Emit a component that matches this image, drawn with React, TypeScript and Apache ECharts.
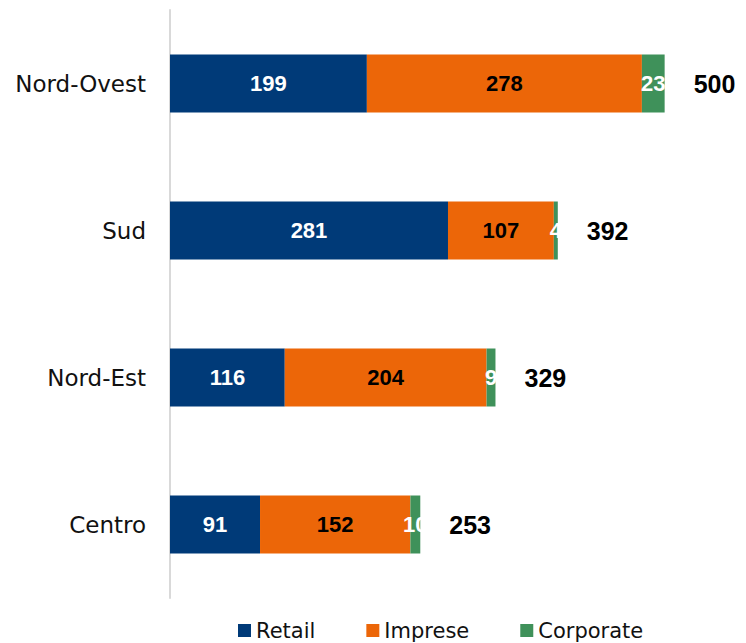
import React, { useEffect, useRef } from "react";
import * as echarts from "echarts";

const categories = ["Nord-Ovest", "Sud", "Nord-Est", "Centro"];
const retail = [199, 281, 116, 91];
const imprese = [278, 107, 204, 152];
const corporate = [23, 4, 9, 10];
const totals = [500, 392, 329, 253];
const seriesNames = ["Retail", "Imprese", "Corporate"];

export default function App() {
  const ref = useRef<HTMLDivElement>(null);
  useEffect(() => {
    if (!ref.current) return;
    const chart = echarts.init(ref.current, null, { renderer: "svg" });
    const numFont = "'Liberation Sans', Arial, sans-serif";
    const catFont = "'DejaVu Sans', sans-serif";
    const inner = (color: string) => ({
      show: true,
      position: "inside" as const,
      color,
      fontFamily: numFont,
      fontWeight: "bold" as const,
      fontSize: 22,
    });
    chart.setOption({
      animation: false,
      grid: { left: 170, top: 10, width: 554, height: 588, containLabel: false },
      xAxis: {
        type: "value",
        min: 0,
        max: 560,
        show: false,
      },
      yAxis: {
        type: "category",
        data: categories,
        inverse: true,
        axisLine: { show: true, lineStyle: { color: "#d9d9d9", width: 2 } },
        axisTick: { show: false },
        axisLabel: { fontFamily: catFont, fontSize: 23, color: "#111", margin: 24 },
      },
      legend: {
        data: seriesNames,
        left: 233,
        top: 615,
        itemWidth: 13,
        itemHeight: 13,
        itemGap: 51,
        icon: "rect",
        textStyle: { fontFamily: catFont, fontSize: 21, color: "#111", padding: [0, 0, 0, 0] },
      },
      series: [
        {
          name: "Retail",
          type: "bar",
          stack: "t",
          barWidth: 58,
          data: retail,
          itemStyle: { color: "#003A78" },
          label: inner("#ffffff"),
        },
        {
          name: "Imprese",
          type: "bar",
          stack: "t",
          barWidth: 58,
          data: imprese,
          itemStyle: { color: "#EC6608" },
          label: inner("#000000"),
        },
        {
          name: "Corporate",
          type: "bar",
          stack: "t",
          barWidth: 58,
          data: corporate,
          itemStyle: { color: "#3F915A" },
          label: inner("#ffffff"),
        },
        {
          name: "Totale",
          type: "bar",
          barWidth: 58,
          barGap: "-100%",
          data: totals,
          itemStyle: { color: "rgba(0,0,0,0)" },
          silent: true,
          z: 1,
          label: {
            show: true,
            position: "right",
            distance: 29,
            color: "#000",
            fontFamily: numFont,
            fontWeight: "bold",
            fontSize: 25,
          },
        },
      ],
    });
    return () => chart.dispose();
  }, []);
  return <div ref={ref} style={{ width: 746, height: 643, position: "absolute", left: 0, top: 0 }} />;
}
